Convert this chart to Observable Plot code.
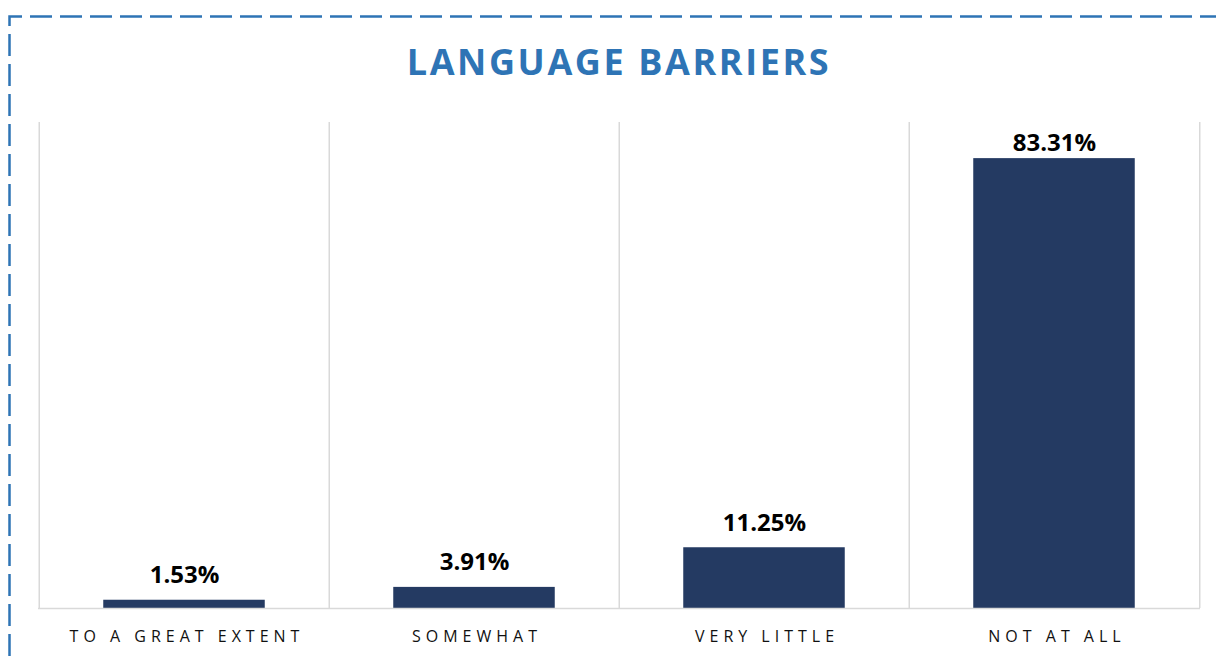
<!DOCTYPE html>
<html>
<head>
<meta charset="utf-8">
<script src="https://cdn.jsdelivr.net/npm/d3@7"></script>
<script src="https://cdn.jsdelivr.net/npm/@observablehq/plot@0.6"></script>
<style>
  html, body { margin: 0; padding: 0; background: #fff; }
  body { width: 1216px; height: 656px; position: relative; overflow: hidden; font-family: "Open Sans", sans-serif; }
  #frame { position: absolute; left: 0; top: 0; pointer-events: none; }
  #title { position: absolute; left: 22px; top: 37px; width: 1194px; text-align: center; font-size: 36px; font-weight: 700; letter-spacing: 2.6px; color: #2E74B5; line-height: 50px; }
  #chart { position: absolute; left: 0; top: 100px; }
</style>
</head>
<body>
<svg id="frame" width="1216" height="656">
  <path d="M9.5,656 L9.5,16.5 L1216,16.5" fill="none" stroke="#2E74B5" stroke-width="2.5" stroke-dasharray="22 8"/>
</svg>
<div id="title">LANGUAGE BARRIERS</div>
<div id="chart"></div>
<script>
const categories = ["TO A GREAT EXTENT", "SOMEWHAT", "VERY LITTLE", "NOT AT ALL"];
const values = [1.53, 3.91, 11.25, 83.31];
const valueLabels = ["1.53%", "3.91%", "11.25%", "83.31%"];

const data = categories.map((c, i) => ({category: c, value: values[i], label: valueLabels[i]}));

const width = 1216, height = 556;
const marginLeft = 38, marginRight = 16, marginTop = 22, marginBottom = 48;
const yMax = 90;
const step = (width - marginLeft - marginRight) / categories.length;
const barWidth = 162;
const inset = (step - barWidth) / 2;
const pxPerUnit = (height - marginTop - marginBottom) / yMax;
// label sits ~17px above its bar, but is kept inside the plot's top edge
const labelY = d => Math.min(d.value + 17 / pxPerUnit, yMax - 28 / pxPerUnit);

const chart = Plot.plot({
  width, height, marginLeft, marginRight, marginTop, marginBottom,
  style: {fontFamily: "Open Sans, sans-serif", background: "transparent"},
  x: {domain: categories, padding: 0, label: null},
  y: {domain: [0, yMax], axis: null},
  marks: [
    Plot.ruleX(categories, {x: d => d, dx: -step / 2, y1: 0, y2: yMax, stroke: "#d9d9d9", strokeWidth: 1.5}),
    Plot.ruleX([categories[categories.length - 1]], {x: d => d, dx: step / 2, y1: 0, y2: yMax, stroke: "#d9d9d9", strokeWidth: 1.5}),
    Plot.barY(data, {x: "category", y: "value", fill: "#243A62", insetLeft: inset, insetRight: inset}),
    Plot.ruleY([0], {stroke: "#d9d9d9", strokeWidth: 1.5}),
    Plot.text(data, {x: "category", y: labelY, text: "label", lineAnchor: "bottom", fontSize: 24, fontWeight: 700, fill: "#000"}),
    Plot.axisX({tickSize: 0, tickPadding: 22, fontSize: 16, fill: "#111", label: null, dx: 2.5})
  ]
});
chart.querySelectorAll("[aria-label='x-axis tick label'] text").forEach(t => t.setAttribute("letter-spacing", "5px"));
document.getElementById("chart").appendChild(chart);
</script>
</body>
</html>
